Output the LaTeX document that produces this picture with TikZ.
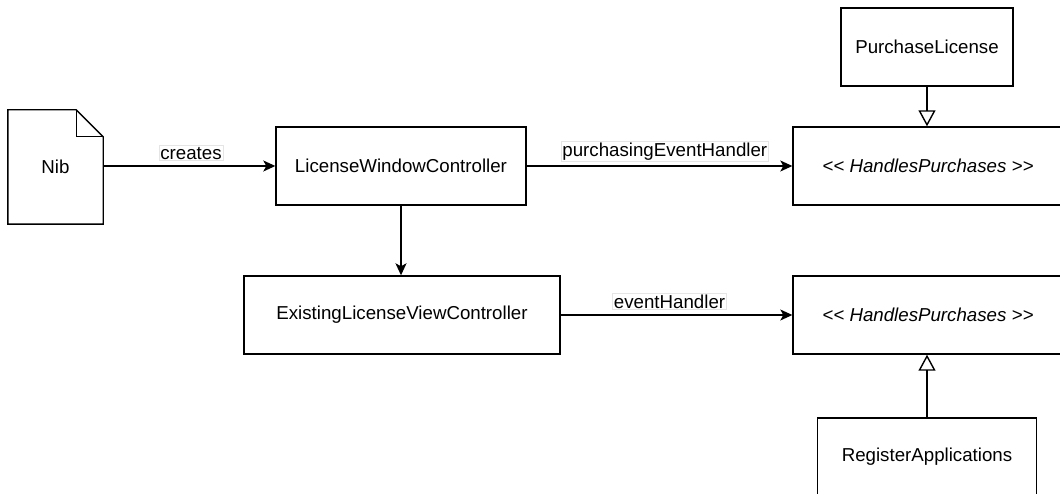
\documentclass[tikz,border=0pt]{standalone}
\usepackage{fontspec}
\setmainfont[Ligatures=NoCommon]{Liberation Sans}
\usetikzlibrary{arrows.meta}
\begin{document}
\begin{tikzpicture}[x=1pt, y=-1pt,
  every node/.style={font=\fontsize{18.7}{22}\selectfont},
  cls/.style={draw, line width=1.4pt, rectangle, minimum height=78pt, inner sep=0pt},
  conn/.style={line width=1.4pt, -{Stealth[length=12pt, width=11pt, inset=3pt]}},
  realize/.style={line width=1.4pt, -{Triangle[open, length=16pt, width=17pt, line width=1.4pt]}},
  lbl/.style={fill=white, draw=black!10, line width=0.5pt, inner sep=1.5pt}]
  \useasboundingbox (0,0) rectangle (1060,494);
  \clip (0,0) rectangle (1060,494);

  % document shape with folded corner
  \node[minimum width=95pt, minimum height=114pt, inner sep=0pt] (nib) at (55.5,167) {Nib};
  \draw[line width=1.4pt] (nib.north west) -- ([xshift=-27pt]nib.north east)
    -- ([yshift=-27pt]nib.north east) -- (nib.south east) -- (nib.south west) -- cycle;
  \draw[line width=1.4pt] ([xshift=-27pt]nib.north east) -- ([xshift=-27pt,yshift=-27pt]nib.north east)
    -- ([yshift=-27pt]nib.north east);

  % classes
  \node[cls, minimum width=250pt] (lwc) at (401,166) {LicenseWindowController};
  \node[cls, minimum width=316pt] (elvc) at (402,315) {ExistingLicenseViewController};
  \node[cls, minimum width=270pt] (hp1) at (928,166) {\itshape {<}{<} HandlesPurchases {>}{>}};
  \node[cls, minimum width=270pt] (hp2) at (928,315) {\itshape {<}{<} HandlesPurchases {>}{>}};
  \node[cls, minimum width=172pt] (pl) at (927,47) {PurchaseLicense};
  \node[cls, minimum width=219pt] (ra) at (927,457) {RegisterApplications};

  % associations
  \draw[conn] (nib.east |- lwc.west) -- node[lbl, above=5pt, pos=0.51] {creates} (lwc.west);
  \draw[conn] (lwc.east) -- node[lbl, above=4pt, pos=0.52] {purchasingEventHandler} (lwc.east -| hp1.west);
  \draw[conn] (lwc.south) -- (lwc.south |- elvc.north);
  \draw[conn] (elvc.east) -- node[lbl, above=5pt, pos=0.47] {eventHandler} (elvc.east -| hp2.west);

  % realizations
  \draw[realize] (pl.south) -- (pl.south |- hp1.north);
  \draw[realize] (ra.north) -- (ra.north |- hp2.south);
\end{tikzpicture}
\end{document}
